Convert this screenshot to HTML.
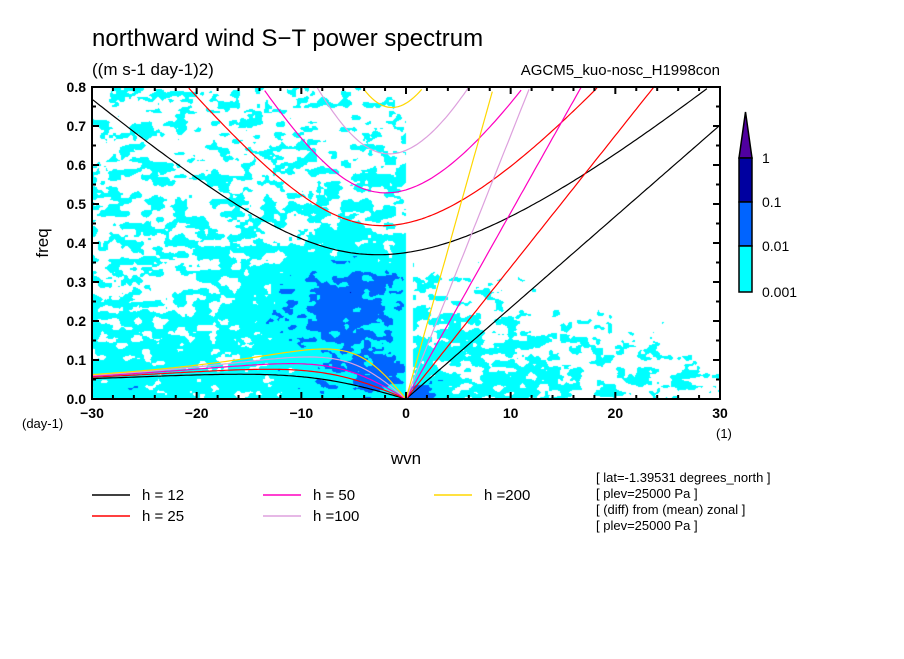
<!DOCTYPE html>
<html><head><meta charset="utf-8"><style>
body{margin:0;background:#fff;width:904px;height:654px;overflow:hidden;font-family:"Liberation Sans",sans-serif}
svg text{font-family:"Liberation Sans",sans-serif}
</style></head><body>
<svg id="chart" width="904" height="654" xmlns="http://www.w3.org/2000/svg">
<text x="92" y="46" font-size="24">northward wind S−T power spectrum</text>
<text x="92" y="75" font-size="17">((m s-1 day-1)2)</text>
<text x="720" y="75" font-size="15" text-anchor="end">AGCM5_kuo-nosc_H1998con</text>
<foreignObject x="92" y="87" width="628" height="312"><canvas xmlns="http://www.w3.org/1999/xhtml" id="cv" width="628" height="312"></canvas></foreignObject>
<g id="curves"></g>
<rect x="92" y="87" width="628" height="312" fill="none" stroke="#000" stroke-width="2"/>
<g id="axes"></g>
<text transform="translate(48,243) rotate(-90)" font-size="17" text-anchor="middle">freq</text>
<text x="406" y="464" font-size="17" text-anchor="middle">wvn</text>
<text x="22" y="428" font-size="13">(day-1)</text>
<text x="716" y="438" font-size="13">(1)</text>
<g>
<polygon points="739,158 752,158 745.5,112" fill="#5000a0" stroke="#000" stroke-width="1.5"/>
<rect x="739" y="158" width="13" height="44" fill="#0000a0" stroke="#000" stroke-width="1.5"/>
<rect x="739" y="202" width="13" height="44" fill="#0064ff" stroke="#000" stroke-width="1.5"/>
<rect x="739" y="246" width="13" height="46" fill="#00ffff" stroke="#000" stroke-width="1.5"/>
<text x="762" y="163" font-size="14">1</text>
<text x="762" y="207" font-size="14">0.1</text>
<text x="762" y="251" font-size="14">0.01</text>
<text x="762" y="297" font-size="14">0.001</text>
</g>
<g id="legend" font-size="15"></g>
<g font-size="13">
<text x="596" y="482">[ lat=-1.39531 degrees_north ]</text>
<text x="596" y="498">[ plev=25000 Pa ]</text>
<text x="596" y="514">[ (diff) from (mean) zonal ]</text>
<text x="596" y="530">[ plev=25000 Pa ]</text>
</g>
</svg>
<script>
const depths=[12,25,50,100,200];
const depthColors=["#000000","#ff0000","#ff00c0","#dda0dd","#ffd700"];
const xTicks=[-30,-20,-10,0,10,20,30];
const yTicks=[0.0,0.1,0.2,0.3,0.4,0.5,0.6,0.7,0.8];
const levels=[-3,-2,-1,0];
const levelColors=["#00ffff","#0064ff","#0000a0","#5000a0"];

const NS="http://www.w3.org/2000/svg";
const X0=92,X1=720,Y0=399,Y1=87;
const sx=k=>X0+(k+30)/60*(X1-X0);
const sy=f=>Y0-f/0.8*(Y0-Y1);
const beta=2.29e-11,aE=6.371e6,g=9.8,toCpd=86400/(2*Math.PI);
function roots(h,wvn){
  const c=Math.sqrt(g*h),k=wvn/aE;
  const A=c*c*k*k+3*beta*c,B=beta*c*c*k;
  const f=w=>w*w*w-A*w-B;
  function bis(lo,hi){let flo=f(lo);for(let i=0;i<80;i++){const m=(lo+hi)/2,fm=f(m);if((fm>0)==(flo>0)){lo=m;flo=fm}else hi=m;}return (lo+hi)/2;}
  const wc=Math.sqrt(A/3);
  const ig=bis(wc,1e-3);
  let ro=null;if(wvn<0)ro=bis(1e-12,wc);
  return {ig:ig*toCpd,ro:ro===null?null:ro*toCpd,kel:c*k*toCpd};
}
const cg=document.getElementById('curves');
function poly(pts,col,name){
  const p=document.createElementNS(NS,'polyline');
  p.setAttribute('points',pts.map(q=>q[0].toFixed(1)+','+q[1].toFixed(1)).join(' '));
  p.setAttribute('fill','none');p.setAttribute('stroke',col);p.setAttribute('stroke-width','1.2');
  
  
  cg.appendChild(p);
}
function clip(pts){return pts.filter(q=>q[1]>=Y1-2);}
depths.forEach((h,i)=>{
  const ig=[],ro=[],kel=[];
  for(let w=-30;w<=30.001;w+=0.25){
    const r=roots(h,w);
    ig.push([sx(w),sy(r.ig)]);
    if(w<0)ro.push([sx(w),sy(r.ro)]);
    if(w>=0)kel.push([sx(w),sy(r.kel)]);
  }
  ro.push([sx(0),sy(0)]);
  let seg=[];const segs=[];ig.forEach(q=>{if(q[1]>=Y1){seg.push(q)}else{if(seg.length)segs.push(seg);seg=[]}});if(seg.length)segs.push(seg);
  segs.forEach(s=>poly(s,depthColors[i],'ig-curve-h'+h));
  poly(ro,depthColors[i],'rossby-curve-h'+h);
  poly(clip(kel),depthColors[i],'kelvin-line-h'+h);
});
const ax=document.getElementById('axes');
function line(x1,y1,x2,y2,name){const l=document.createElementNS(NS,'line');l.setAttribute('x1',x1);l.setAttribute('y1',y1);l.setAttribute('x2',x2);l.setAttribute('y2',y2);l.setAttribute('stroke','#000');l.setAttribute('stroke-width','2');


ax.appendChild(l);}
function txt(x,y,s,anchor,name,size){const t=document.createElementNS(NS,'text');t.setAttribute('x',x);t.setAttribute('y',y);t.setAttribute('text-anchor',anchor);t.setAttribute('font-size',size||14);t.setAttribute('font-weight','bold');t.textContent=s;


ax.appendChild(t);return t;}
for(let w=-30;w<=30;w+=2){const maj=w%10==0,L=maj?7:4;line(sx(w),Y0,sx(w),Y0-L,'x-tick');line(sx(w),Y1,sx(w),Y1+L,'x-tick');}
for(let f=0;f<=0.8001;f+=0.05){const maj=Math.round(f*100)%10==0,L=maj?7:4;line(X0,sy(f),X0+L,sy(f),'y-tick');line(X1,sy(f),X1-L,sy(f),'y-tick');}
xTicks.forEach(w=>txt(sx(w),418,w<0?'−'+(-w):String(w),'middle','x-tick-label'));
yTicks.forEach(f=>txt(86,sy(f)+5,f.toFixed(1),'end','y-tick-label'));
const lg=document.getElementById('legend');
const legPos=[[92,495],[92,516],[263,495],[263,516],[434,495]];
const legTxt=["h = 12","h = 25","h = 50","h =100","h =200"];
depths.forEach((h,i)=>{
  const [x,y]=legPos[i];
  const l=document.createElementNS(NS,'line');l.setAttribute('x1',x);l.setAttribute('x2',x+38);l.setAttribute('y1',y);l.setAttribute('y2',y);l.setAttribute('stroke',depthColors[i]);l.setAttribute('stroke-width','1.5');
  
  
  lg.appendChild(l);
  const t=document.createElementNS(NS,'text');t.setAttribute('x',x+50);t.setAttribute('y',y+5);t.textContent=legTxt[i];
  
  
  lg.appendChild(t);
});
// power field (illustrative texture)
const cv=document.getElementById('cv'),ctx=cv.getContext('2d');
const W=628,H=312;
function hash(i,j){const s=Math.sin(i*127.1+j*311.7)*43758.5453;return s-Math.floor(s);}
function vnoise(x,y){const i=Math.floor(x),j=Math.floor(y),fx=x-i,fy=y-j;
  const a=hash(i,j),b=hash(i+1,j),c=hash(i,j+1),d=hash(i+1,j+1);
  const ux=fx*fx*(3-2*fx),uy=fy*fy*(3-2*fy);
  return a*(1-ux)*(1-uy)+b*ux*(1-uy)+c*(1-ux)*uy+d*ux*uy;}
const img=ctx.createImageData(W,H);
const cols=levelColors.map(h=>[parseInt(h.slice(1,3),16),parseInt(h.slice(3,5),16),parseInt(h.slice(5,7),16)]);
for(let py=0;py<H;py++)for(let px=0;px<W;px++){
  const k=(px/W)*60-30,f=(1-py/H)*0.8;
  let b;
  if(k<0){
    b=-3.0-0.6*Math.max(0,f-0.4);
    b+=1.45*Math.exp(-Math.pow((k+6)/6.5,2)-Math.pow((f-0.25)/0.12,2));
    b+=0.9*Math.exp(-Math.pow((k+3)/3.5,2)-Math.pow((f-0.06)/0.07,2));
    b+=0.4*Math.exp(-Math.pow(f/0.2,2));
  }else{
    b=-2.8-4*Math.max(0,f-0.05-0.006*(30-k))-0.015*k;
    b+=1.4*Math.exp(-Math.pow((k-1.5)/2.5,2)-Math.pow(f/0.05,2));
  }
  if(Math.abs(k-0.3)<0.35&&f>0.02)b-=1.2;
  const n=vnoise(px/11,py/6)*1.1+vnoise(px/4+30.5,py/3+50.5)*0.5-0.8;
  const v=b+n;
  let idx=-1;for(let l=0;l<levels.length;l++)if(v>=levels[l])idx=l;
  const o=(py*W+px)*4;
  if(idx<0){img.data[o]=255;img.data[o+1]=255;img.data[o+2]=255;}
  else{const c=cols[Math.min(idx,2)];img.data[o]=c[0];img.data[o+1]=c[1];img.data[o+2]=c[2];}
  img.data[o+3]=255;
}
ctx.putImageData(img,0,0);
</script>
</body></html>
